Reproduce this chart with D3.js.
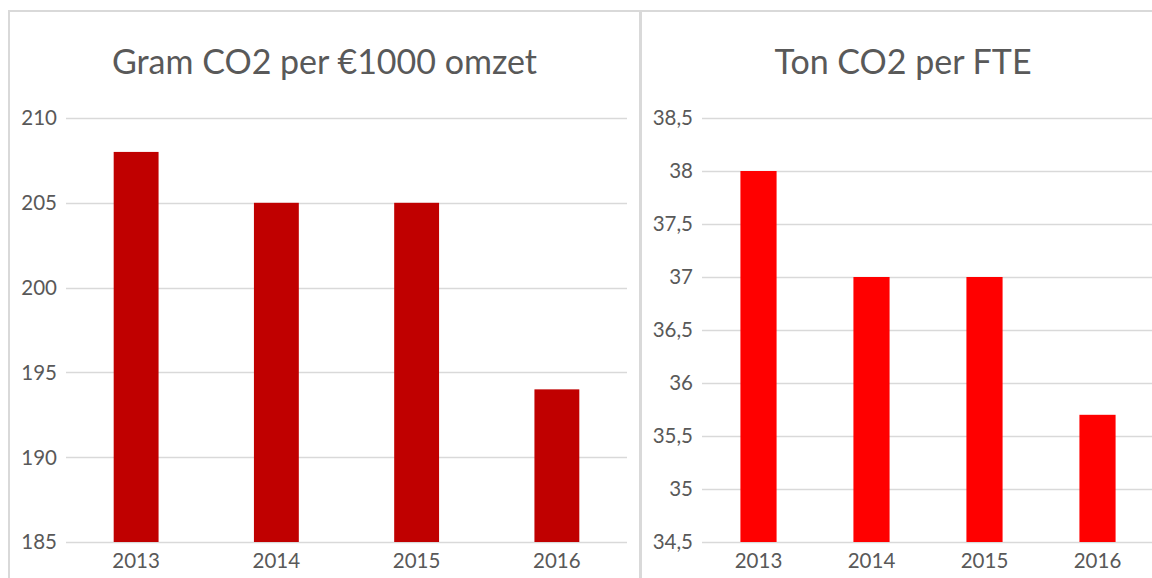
<!DOCTYPE html>
<html>
<head>
<meta charset="utf-8">
<script src="https://cdn.jsdelivr.net/npm/d3@7"></script>
<style>
  body { margin: 0; background: #fff; }
  svg { display: block; font-family: Lato, "Open Sans", sans-serif; }
</style>
</head>
<body>
<svg id="chart" width="1152" height="578"></svg>
<script>
var years = ["2013", "2014", "2015", "2016"];

var gramValues = [208, 205, 205, 194];
var gramTicks = [185, 190, 195, 200, 205, 210];

var tonValues = [38, 37, 37, 35.7];
var tonTicks = [34.5, 35, 35.5, 36, 36.5, 37, 37.5, 38, 38.5];

var nl = d3.formatLocale({ decimal: ",", thousands: ".", grouping: [3], currency: ["€", ""] });
var fmt = nl.format("~f");

var svg = d3.select("#chart");

function panel(opts) {
    var g = svg.append("g");

    g.append("rect")
        .attr("x", opts.box[0])
        .attr("y", opts.box[1])
        .attr("width", opts.box[2])
        .attr("height", opts.box[3])
        .attr("fill", "#fff")
        .attr("stroke", "#d9d9d9")
        .attr("stroke-width", 2);

    g.append("text")
        .attr("x", opts.box[0] + opts.box[2] / 2)
        .attr("y", 74)
        .attr("text-anchor", "middle")
        .attr("fill", "#595959")
        .style("font-size", "34px")
        .text(opts.title);

    var x = d3.scaleBand().domain(years).range([opts.left, opts.right]).padding(0);
    var y = d3.scaleLinear().domain(d3.extent(opts.ticks)).range([542, 118]);

    // gridlines
    g.selectAll(".grid")
        .data(opts.ticks)
        .enter().append("line")
        .attr("x1", opts.left)
        .attr("x2", opts.right)
        .attr("y1", function(d) { return Math.round(y(d)) + 0.5; })
        .attr("y2", function(d) { return Math.round(y(d)) + 0.5; })
        .attr("stroke", "#d9d9d9")
        .attr("stroke-width", 1.5);

    // y labels
    g.selectAll(".ylab")
        .data(opts.ticks)
        .enter().append("text")
        .attr("x", opts.left - 9)
        .attr("y", function(d) { return y(d); })
        .attr("dy", "0.36em")
        .attr("text-anchor", "end")
        .attr("fill", "#595959")
        .style("font-size", "20.5px")
        .text(function(d) { return fmt(d); });

    var bw = x.bandwidth() * 0.32;

    g.selectAll(".bar")
        .data(opts.values)
        .enter().append("rect")
        .attr("x", function(d, i) { return x(years[i]) + x.bandwidth() / 2 - bw / 2; })
        .attr("y", function(d) { return y(d); })
        .attr("width", bw)
        .attr("height", function(d) { return y(opts.ticks[0]) - y(d); })
        .attr("fill", opts.color);

    g.selectAll(".xlab")
        .data(years)
        .enter().append("text")
        .attr("x", function(d) { return x(d) + x.bandwidth() / 2; })
        .attr("y", 568)
        .attr("text-anchor", "middle")
        .attr("fill", "#595959")
        .style("font-size", "20.5px")
        .text(function(d) { return d; });
}

panel({
    box: [9, 11, 631, 600],
    title: "Gram CO2 per €1000 omzet",
    left: 66, right: 627,
    ticks: gramTicks,
    values: gramValues,
    color: "#c00000"
});

panel({
    box: [641, 11, 524, 600],
    title: "Ton CO2 per FTE",
    left: 702, right: 1154,
    ticks: tonTicks,
    values: tonValues,
    color: "#ff0000"
});
</script>
</body>
</html>
